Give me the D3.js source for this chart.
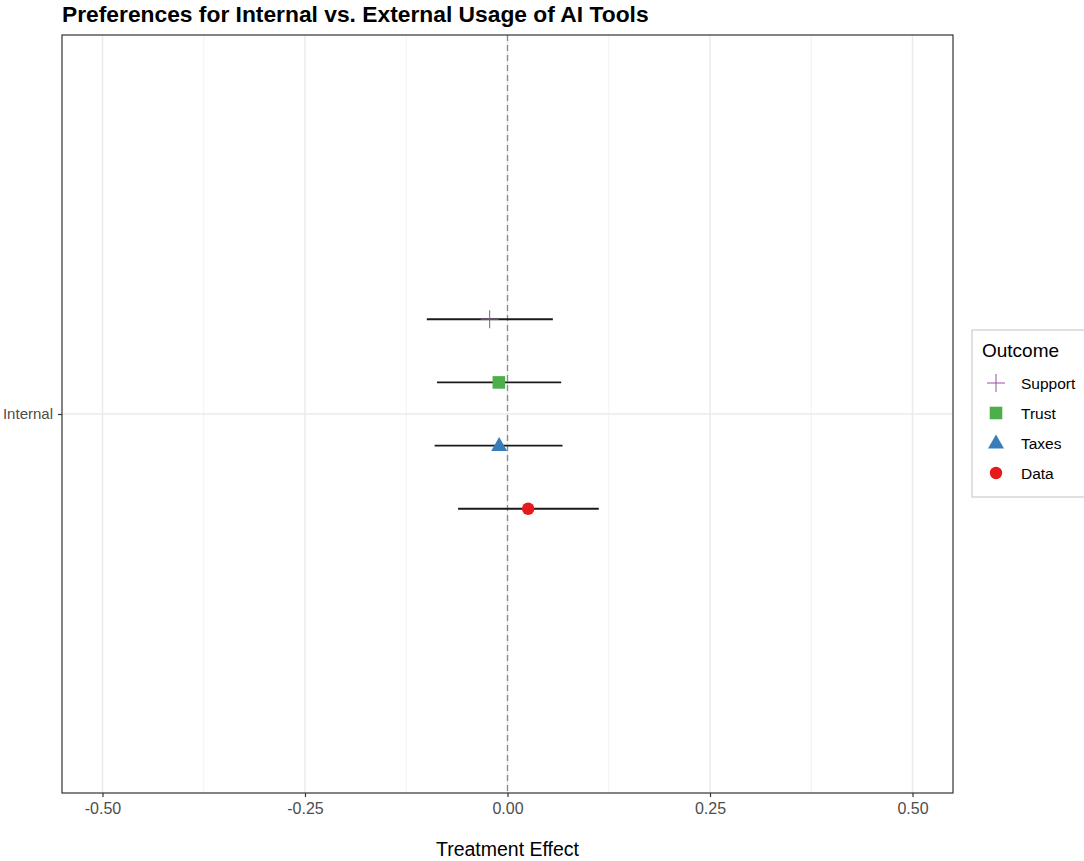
<!DOCTYPE html>
<html>
<head>
<meta charset="utf-8">
<script src="https://cdn.jsdelivr.net/npm/d3@7"></script>
<style>
  body { margin: 0; background: #fff; }
  text { font-family: "Liberation Sans", Arial, sans-serif; }
</style>
</head>
<body>
<div id="chart"></div>
<script>
// values
var groups = ["Internal"];
var outcomes = ["Data", "Taxes", "Trust", "Support"];   // dodge order, bottom to top
var legendOrder = ["Support", "Trust", "Taxes", "Data"];
var estimates = [0.0255, -0.0103, -0.0107, -0.022];
var lower = [-0.061, -0.090, -0.087, -0.0996];
var upper = [0.1127, 0.0679, 0.0663, 0.056];
var xTicks = [-0.5, -0.25, 0, 0.25, 0.5];
var xMinor = [-0.375, -0.125, 0.125, 0.375];

var colors = {Support: "#984EA3", Trust: "#4DAF4A", Taxes: "#377EB8", Data: "#E41A1C"};

var width = 1084, height = 861;
var panel = {left: 62, right: 953, top: 35, bottom: 793};

var svg = d3.select("#chart").append("svg")
    .attr("width", width)
    .attr("height", height);

var x = d3.scaleLinear().domain([-0.55, 0.55]).range([panel.left, panel.right]);
// one discrete group at position 1, ggplot-style expansion
var y = d3.scaleLinear().domain([0.4, 1.6]).range([panel.bottom, panel.top]);
var dodge = 0.4;

function dodgeOffset(i){
    var n = outcomes.length;
    return -dodge / 2 + dodge / n * (i + 0.5);
}

// gridlines
var grid = svg.append("g");
grid.selectAll(".minor").data(xMinor).enter().append("line")
    .attr("x1", d => x(d)).attr("x2", d => x(d))
    .attr("y1", panel.top).attr("y2", panel.bottom)
    .attr("stroke", "#F2F2F2").attr("stroke-width", 1);
grid.selectAll(".major").data(xTicks).enter().append("line")
    .attr("x1", d => x(d)).attr("x2", d => x(d))
    .attr("y1", panel.top).attr("y2", panel.bottom)
    .attr("stroke", "#EBEBEB").attr("stroke-width", 1.5);
grid.selectAll(".hmajor").data(groups).enter().append("line")
    .attr("x1", panel.left).attr("x2", panel.right)
    .attr("y1", (d, i) => y(i + 1)).attr("y2", (d, i) => y(i + 1))
    .attr("stroke", "#EBEBEB").attr("stroke-width", 1.5);

// zero reference line
svg.append("line")
    .attr("x1", x(0)).attr("x2", x(0))
    .attr("y1", panel.top).attr("y2", panel.bottom)
    .attr("stroke", "#8C8C8C").attr("stroke-width", 1.3)
    .attr("stroke-dasharray", "6,4");

var rows = outcomes.map(function(o, i){
    return {outcome: o, est: estimates[i], lo: lower[i], hi: upper[i], yv: 1 + dodgeOffset(i)};
});

// error bars
svg.append("g").selectAll("line").data(rows).enter().append("line")
    .attr("x1", d => x(d.lo)).attr("x2", d => x(d.hi))
    .attr("y1", d => y(d.yv)).attr("y2", d => y(d.yv))
    .attr("stroke", "#1A1A1A").attr("stroke-width", 1.9);

function drawSymbol(g, outcome){
    var c = colors[outcome];
    if(outcome === "Support"){
        g.append("path")
            .attr("d", "M-9,0H9M0,-9V9")
            .attr("stroke", c).attr("stroke-width", 1).attr("fill", "none");
    } else if(outcome === "Trust"){
        g.append("rect").attr("x", -6.3).attr("y", -6.3)
            .attr("width", 12.6).attr("height", 12.6).attr("fill", c);
    } else if(outcome === "Taxes"){
        g.append("path").attr("d", "M0,-8.5L8,5.5H-8Z").attr("fill", c);
    } else {
        g.append("circle").attr("r", 6.2).attr("fill", c);
    }
}

svg.append("g").selectAll("g").data(rows).enter().append("g")
    .attr("transform", d => "translate(" + x(d.est) + "," + y(d.yv) + ")")
    .each(function(d){ drawSymbol(d3.select(this), d.outcome); });

// panel border
svg.append("rect")
    .attr("x", panel.left).attr("y", panel.top)
    .attr("width", panel.right - panel.left).attr("height", panel.bottom - panel.top)
    .attr("fill", "none").attr("stroke", "#333333").attr("stroke-width", 1.2);

// x axis
var xAxis = svg.append("g")
    .attr("transform", "translate(0," + panel.bottom + ")")
    .call(d3.axisBottom(x).tickValues(xTicks).tickSize(4).tickPadding(6));
xAxis.select(".domain").remove();
xAxis.selectAll(".tick line").attr("stroke", "#333333").attr("stroke-width", 1.2);
xAxis.selectAll("text").attr("fill", "#4D4D4D").style("font-size", "16px")
    .style("font-family", "'Liberation Sans', Arial, sans-serif")
    .text(d => d3.format(".2f")(d).replace("−", "-"));

// y axis
var yAxis = svg.append("g")
    .attr("transform", "translate(" + panel.left + ",0)")
    .call(d3.axisLeft(y).tickValues([1]).tickFormat((d, i) => groups[i]).tickSize(4).tickPadding(5));
yAxis.select(".domain").remove();
yAxis.selectAll(".tick line").attr("stroke", "#333333").attr("stroke-width", 1.2);
yAxis.selectAll("text").attr("fill", "#4D4D4D").style("font-size", "15px")
    .style("font-family", "'Liberation Sans', Arial, sans-serif");

// titles
svg.append("text")
    .attr("x", 62).attr("y", 22)
    .style("font-size", "22.8px").style("font-weight", "bold")
    .attr("fill", "#000")
    .text("Preferences for Internal vs. External Usage of AI Tools");

svg.append("text")
    .attr("x", x(0)).attr("y", 856)
    .attr("text-anchor", "middle")
    .style("font-size", "19.5px")
    .attr("fill", "#000")
    .text("Treatment Effect");

// legend
var legend = svg.append("g").attr("transform", "translate(972,330)");
legend.append("rect")
    .attr("x", 0).attr("y", 0).attr("width", 120).attr("height", 167)
    .attr("fill", "#fff").attr("stroke", "#CCCCCC").attr("stroke-width", 1.2);
legend.append("text")
    .attr("x", 10).attr("y", 27)
    .style("font-size", "19px").attr("fill", "#000")
    .text("Outcome");
var items = legend.selectAll(".item").data(legendOrder).enter().append("g")
    .attr("transform", (d, i) => "translate(0," + (53 + i * 30) + ")");
items.append("g")
    .attr("transform", "translate(24,0)")
    .each(function(d){ drawSymbol(d3.select(this), d); });
items.append("text")
    .attr("x", 49).attr("y", 5.5)
    .style("font-size", "15.5px").attr("fill", "#000")
    .text(d => d);
</script>
</body>
</html>
